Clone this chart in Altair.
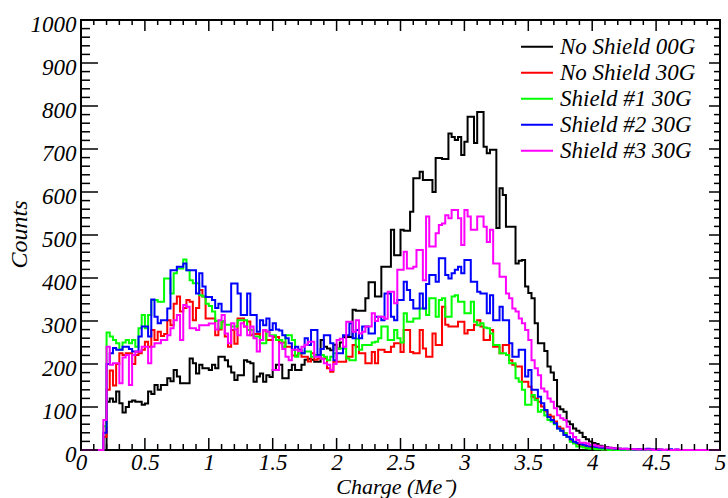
import pandas as pd
import altair as alt

# ---------------- data (bin contents) ----------------
BIN_WIDTH = 0.025
N_BINS = 200
FIRST_BIN = 7  # first listed value belongs to bin starting at 0.175

series_names = ["No Shield 00G", "No Shield 30G", "Shield #1 30G", "Shield #2 30G", "Shield #3 30G"]
series_colors = ["#000000", "#ff0000", "#00ff00", "#0000ff", "#ff00ff"]

no_shield_00g = [
    0,
    112, 120, 112, 136, 109, 87, 100, 112, 115, 112, 112, 105, 108,
    136, 130, 151, 140, 151, 151, 167, 160, 186, 171,
    155, 155, 155, 213, 202, 178, 198, 190, 190, 186,
    198, 190, 217, 217, 209, 194, 180, 163, 174, 174,
    209, 205, 202, 159, 171, 178, 159, 174, 170, 186,
    198, 198, 167, 167, 186, 198, 186, 186, 198, 210,
    212, 210, 205, 205, 256, 240, 236, 232, 245, 236,
    250, 262, 263, 263, 326, 324, 324, 324, 353, 390,
    390, 357, 357, 426, 426, 426, 512, 453, 453, 512,
    510, 510, 554, 632, 632, 647, 628, 628, 628, 600,
    679, 679, 677, 677, 736, 728, 721, 728, 686, 717,
    775, 775, 714, 786, 786, 705, 690, 698, 698, 516,
    609, 593, 519, 519, 519, 434, 440, 442, 380, 365,
    353, 295, 248, 248, 230, 194, 180, 163, 101, 95,
    89, 66, 60, 50, 45, 40, 30, 25, 20, 16,
    14, 10, 8, 7, 5, 4, 3, 3, 2, 2,
    2, 1, 1, 2, 1, 0, 1, 1, 0, 1,
]

no_shield_30g = [
    30,
    140, 185, 150, 200, 225, 221, 225, 225, 200, 221,
    225, 233, 252, 240, 279, 256, 275, 265, 270, 302,
    290, 340, 357, 322, 330, 349, 345, 302, 330, 372,
    357, 306, 306, 306, 267, 280, 299, 264, 240, 279,
    247, 306, 306, 287, 299, 267, 270, 270, 256, 278,
    256, 256, 263, 263, 250, 250, 240, 240, 220, 220,
    233, 217, 217, 206, 225, 210, 213, 213, 213, 190,
    182, 205, 205, 205, 205, 217, 217, 244, 240, 225,
    225, 202, 202, 228, 202, 233, 233, 228, 228, 240,
    248, 248, 228, 279, 279, 228, 225, 225, 279, 236,
    217, 217, 271, 244, 244, 333, 291, 287, 287, 287,
    298, 298, 271, 279, 279, 291, 302, 287, 256, 256,
    279, 240, 240, 225, 244, 244, 209, 198, 194, 194,
    159, 159, 147, 124, 120, 112, 101, 90, 82, 78,
    66, 54, 50, 39, 30, 23, 16, 14, 10, 8,
    6, 5, 4, 3, 3, 2, 2, 1, 1, 1,
    0, 1, 0, 1,
]

shield1_30g = [
    55,
    273, 264, 256, 248, 234, 250, 256, 248, 256, 240,
    283, 314, 283, 314, 349, 349, 345, 345, 399, 399,
    364, 411, 422, 422, 443, 418, 395, 388, 388, 360,
    357, 340, 335, 322, 300, 283, 300, 291, 291, 287,
    287, 302, 302, 302, 279, 279, 264, 264, 248, 248,
    275, 267, 267, 256, 256, 240, 267, 267, 256, 217,
    225, 225, 229, 229, 217, 221, 221, 221, 217, 209,
    217, 225, 236, 236, 236, 213, 209, 209, 259, 233,
    244, 244, 244, 250, 252, 260, 287, 287, 256, 256,
    279, 260, 250, 318, 298, 298, 306, 306, 329, 329,
    314, 353, 353, 310, 349, 353, 310, 310, 357, 360,
    345, 345, 318, 318, 345, 298, 290, 295, 285, 283,
    271, 244, 244, 225, 225, 221, 202, 202, 167, 159,
    140, 105, 105, 128, 116, 89, 93, 80, 70, 66,
    60, 50, 45, 39, 30, 19, 15, 8, 8, 6,
    4, 3, 3, 2, 2, 1, 1, 0, 1, 0,
]

shield2_30g = [
    40,
    200, 225, 237, 233, 233, 240, 240, 235, 229, 229,
    264, 287, 287, 264, 350, 310, 295, 302, 302, 329,
    418, 418, 426, 426, 434, 418, 418, 418, 364, 411,
    380, 356, 356, 349, 330, 340, 322, 322, 322, 387,
    387, 364, 314, 314, 364, 314, 314, 275, 302, 290,
    306, 279, 295, 280, 278, 267, 260, 248, 233, 240,
    233, 225, 260, 244, 279, 279, 221, 235, 267, 267,
    248, 209, 225, 225, 267, 267, 295, 260, 279, 260,
    287, 287, 271, 271, 310, 310, 302, 364, 364, 310,
    302, 349, 349, 391, 372, 349, 329, 329, 364, 329,
    386, 407, 407, 391, 446, 446, 407, 399, 411, 419,
    426, 411, 442, 442, 391, 391, 368, 364, 364, 318,
    360, 302, 302, 333, 302, 302, 248, 217, 217, 233,
    233, 171, 186, 140, 140, 124, 109, 93, 77, 70,
    62, 50, 45, 35, 31, 25, 19, 16, 14, 12,
    10, 9, 8, 7, 6, 5, 5, 4, 4, 3,
    3, 2, 3, 2, 2, 1, 2, 1, 1, 3,
    1, 1, 0, 1, 0, 0, 2, 0, 1, 0,
]

shield3_30g = [
    70,
    240, 198, 202, 202, 155, 215, 221, 151, 221, 229,
    229, 240, 240, 202, 240, 248, 248, 256, 256, 267,
    283, 302, 314, 256, 337, 333, 283, 283, 279, 290,
    290, 290, 294, 294, 280, 302, 314, 271, 248, 295,
    280, 267, 295, 287, 267, 287, 260, 229, 256, 279,
    275, 265, 186, 186, 248, 235, 217, 209, 233, 233,
    230, 240, 245, 252, 252, 217, 217, 212, 202, 198,
    186, 200, 256, 259, 240, 298, 298, 275, 302, 271,
    275, 287, 287, 318, 300, 310, 310, 305, 368, 368,
    341, 419, 419, 461, 422, 422, 426, 465, 465, 395,
    543, 473, 473, 504, 523, 527, 546, 539, 558, 558,
    539, 477, 558, 543, 512, 512, 543, 543, 519, 484,
    512, 434, 434, 403, 403, 364, 353, 329, 322, 306,
    295, 279, 256, 209, 190, 174, 143, 136, 120, 112,
    97, 81, 74, 70, 54, 39, 30, 23, 17, 17,
    15, 12, 12, 10, 8, 8, 6, 5, 4, 4,
    3, 3, 3, 2, 2, 2, 1, 2, 1, 1,
    1, 0, 1, 1, 0, 1, 0, 0, 1, 0,
]

series_counts = [no_shield_00g, no_shield_30g, shield1_30g, shield2_30g, shield3_30g]

x_major = [0, 0.5, 1, 1.5, 2, 2.5, 3, 3.5, 4, 4.5, 5]
x_minor = [round(i * 0.1, 1) for i in range(51) if i % 5 != 0]
y_major = list(range(0, 1001, 100))
y_minor = [v for v in range(0, 1001, 20) if v % 100 != 0]

x_title = "Charge (Me\u207b)"
y_title = "Counts"

# ---------------- chart ----------------
FONT = "Liberation Serif"
W, H = 639, 430

xscale = alt.Scale(domain=[0, 5], nice=False, zero=False)
yscale = alt.Scale(domain=[0, 1000], nice=False, zero=False)
color_scale = alt.Scale(domain=series_names, range=series_colors)


def hist_frame(name, counts):
    full = [0] * FIRST_BIN + list(counts)
    full = full + [0] * (N_BINS - len(full))
    edges = [i * BIN_WIDTH for i in range(N_BINS)] + [N_BINS * BIN_WIDTH]
    vals = full + [full[-1]]
    return pd.DataFrame({"charge": edges, "counts": vals, "series": name})


x_axis = alt.Axis(
    values=x_major, format="~g", ticks=False, domain=False, grid=False,
    labelFlush=False, labelFont=FONT, labelFontSize=23, labelFontStyle="italic",
    labelColor="black", labelBaseline="alphabetic", labelPadding=19,
    title=x_title, titleFont=FONT, titleFontSize=22, titleFontStyle="italic",
    titleFontWeight="normal", titleColor="black", titleX=315, titleY=43,
    titleBaseline="alphabetic", titleAlign="center",
)
y_axis = alt.Axis(
    values=y_major, format="d", ticks=False, domain=False, grid=False,
    labelFlush=False, labelFont=FONT, labelFontSize=23, labelFontStyle="italic",
    labelColor="black", labelBaseline="middle", labelPadding=5, labelOffset=4,
    title=y_title, titleFont=FONT, titleFontSize=24, titleFontStyle="italic",
    titleFontWeight="normal", titleColor="black", titleX=-55, titleY=214,
    titleAngle=270, titleBaseline="alphabetic", titleAlign="center",
)
legend = alt.Legend(
    orient="none", legendX=439, legendY=14, symbolType="stroke", symbolSize=1024,
    symbolStrokeWidth=2, labelFont=FONT, labelFontSize=23, labelFontStyle="italic",
    labelColor="black", labelOffset=6, title=None, clipHeight=25.7, rowPadding=0,
    padding=0,
)

hist_layers = []
for i, (name, counts) in enumerate(zip(series_names, series_counts)):
    first = i == 0
    enc = dict(
        x=alt.X("charge:Q", scale=xscale, axis=x_axis) if first else alt.X("charge:Q", scale=xscale),
        y=alt.Y("counts:Q", scale=yscale, axis=y_axis) if first else alt.Y("counts:Q", scale=yscale),
        color=alt.Color("series:N", scale=color_scale, legend=legend if first else None),
    )
    hist_layers.append(
        alt.Chart(hist_frame(name, counts))
        .mark_line(interpolate="step-after", strokeWidth=2)
        .encode(**enc)
    )


def yticks(vals, x0, x1):
    return alt.Chart(pd.DataFrame({"charge": [0.0] * len(vals), "counts": vals})).mark_rule(
        color="black", strokeWidth=1.5
    ).encode(
        y=alt.Y("counts:Q", scale=yscale), x=alt.value(x0), x2=alt.value(x1)
    )


def xticks(vals, y0, y1):
    return alt.Chart(pd.DataFrame({"charge": vals, "counts": [0] * len(vals)})).mark_rule(
        color="black", strokeWidth=1.5
    ).encode(
        x=alt.X("charge:Q", scale=xscale), y=alt.value(y0), y2=alt.value(y1)
    )


tick_layers = [
    yticks(y_major, 0, 17), yticks(y_minor, 0, 9),
    yticks(y_major, W - 11, W), yticks(y_minor, W - 6, W),
    xticks(x_major, H, H - 12), xticks(x_minor, H, H - 6),
    xticks(x_major, 0, 11), xticks(x_minor, 0, 5),
]

chart = (
    alt.layer(*hist_layers, *tick_layers)
    .properties(
        width=W, height=H,
        autosize=alt.AutoSizeParams(type="none"),
        padding={"left": 81, "top": 20, "right": 8, "bottom": 48},
        background="white",
    )
    .configure_view(stroke="black", strokeWidth=2)
)

chart.save("out.html", embed_options={"renderer": "svg", "actions": False})
